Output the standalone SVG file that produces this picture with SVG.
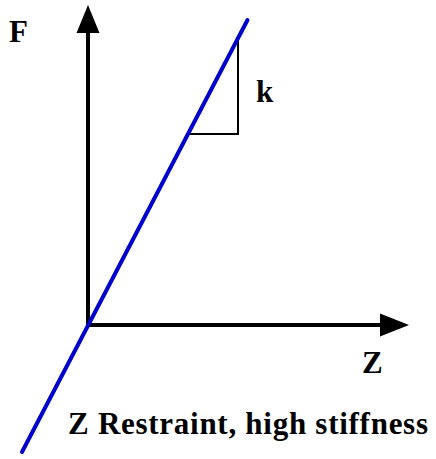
<svg xmlns="http://www.w3.org/2000/svg" width="436" height="459" viewBox="0 0 436 459">
<style>
.lbl{font-family:"Liberation Serif","Times New Roman",serif;font-weight:bold;font-size:31px;fill:#000}
.axis{stroke:#000;stroke-width:4;fill:none}
</style>
<rect width="436" height="459" fill="#fff"/>
<g id="connectors">
<line class="axis" x1="88" y1="327" x2="88" y2="30"/>
<polygon points="88,5 76.5,33 99.5,33" fill="#000"/>
<line class="axis" x1="86" y1="325" x2="384" y2="325"/>
<polygon points="409,325 380,313.5 380,336.5" fill="#000"/>
<polyline points="188,134 238,134 238,37" fill="none" stroke="#000" stroke-width="2"/>
<line x1="22" y1="452" x2="247.5" y2="20" stroke="#0000cc" stroke-width="4" stroke-linecap="round"/>
</g>
<g id="labels">
<text class="lbl" x="9" y="42">F</text>
<text class="lbl" x="256" y="102">k</text>
<text class="lbl" x="362" y="373">Z</text>
<text class="lbl" x="68" y="434" textLength="360" lengthAdjust="spacing">Z Restraint, high stiffness</text>
</g>
</svg>
